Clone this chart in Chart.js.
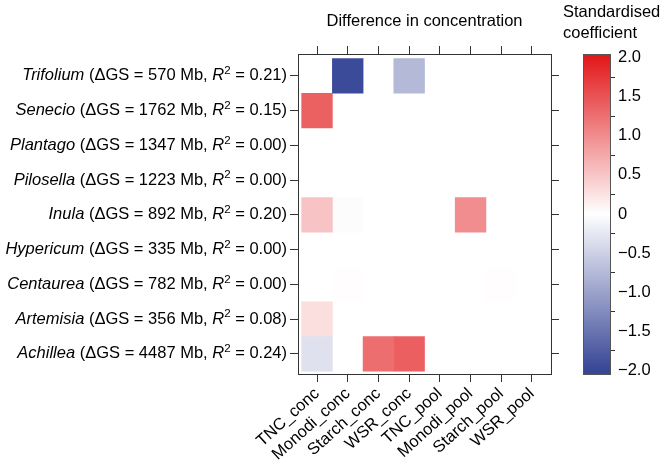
<!DOCTYPE html>
<html>
<head>
<meta charset="utf-8">
<script src="https://cdn.jsdelivr.net/npm/chart.js@4"></script>
<style>
  html, body { margin: 0; padding: 0; background: #fff; }
  #wrap { width: 660px; height: 470px; }
</style>
</head>
<body>
<div id="wrap"><canvas id="heat" width="660" height="470"></canvas></div>
<script>
// rows, top to bottom
const genera = ['Trifolium', 'Senecio', 'Plantago', 'Pilosella', 'Inula', 'Hypericum', 'Centaurea', 'Artemisia', 'Achillea'];
const deltaGS = [570, 1762, 1347, 1223, 892, 335, 782, 356, 4487];
const rSquared = ['0.21', '0.15', '0.00', '0.00', '0.20', '0.00', '0.00', '0.08', '0.24'];

// columns
const columns = ['TNC_conc', 'Monodi_conc', 'Starch_conc', 'WSR_conc', 'TNC_pool', 'Monodi_pool', 'Starch_pool', 'WSR_pool'];

// standardised coefficients per column (null = no cell)
const TNC_conc    = [null, 1.38, null, null, 0.52, null, null, 0.29, -0.32];
const Monodi_conc = [-1.95, null, null, null, -0.03, null, 0.02, null, null];
const Starch_conc = [null, null, null, null, null, null, null, null, 1.27];
const WSR_conc    = [-0.76, null, null, null, null, null, null, null, 1.4];
const TNC_pool    = [null, null, null, null, null, null, null, null, null];
const Monodi_pool = [null, null, null, null, 1.0, null, null, null, null];
const Starch_pool = [null, null, null, null, null, null, 0.02, null, null];
const WSR_pool    = [null, null, null, null, null, null, null, null, null];

const keyTicks = [2, 1.5, 1, 0.5, 0, -0.5, -1, -1.5, -2];

const series = [TNC_conc, Monodi_conc, Starch_conc, WSR_conc, TNC_pool, Monodi_pool, Starch_pool, WSR_pool];

const LOW = [55, 70, 150];
const HIGH = [226, 26, 28];
function coefColour(v) {
  const t = Math.min(Math.abs(v) / 2, 1);
  const end = v < 0 ? LOW : HIGH;
  const c = end.map(e => Math.round(255 + (e - 255) * t));
  return `rgb(${c.join(',')})`;
}

const FONT = 'Liberation Sans, Arial, sans-serif';
const SIZE = 16.5;
const INK = '#000';
const LINE = '#333';

const tickGrid = { drawOnChartArea: false, drawTicks: true, tickLength: 8, color: LINE, lineWidth: 1, offset: false };
const frame = { display: true, color: LINE, width: 1 };
const colTicks = s => { s.ticks = columns.map((_, i) => ({ value: i })); };
const rowTicks = s => { s.ticks = genera.map((_, i) => ({ value: i })); };

const speciesLabels = {
  id: 'speciesLabels',
  afterDraw(chart) {
    const { ctx } = chart;
    const y = chart.scales.y;
    const right = y.right - 8 - 3;
    const reg = `${SIZE}px ${FONT}`;
    const ita = `italic ${SIZE}px ${FONT}`;
    const sup = `${SIZE * 0.7}px ${FONT}`;
    ctx.save();
    ctx.fillStyle = INK;
    ctx.textBaseline = 'middle';
    ctx.textAlign = 'left';
    genera.forEach((g, i) => {
      const yy = y.getPixelForValue(i);
      const parts = [
        { t: g, f: ita },
        { t: ` (ΔGS = ${deltaGS[i]} Mb, `, f: reg },
        { t: 'R', f: ita },
        { t: '2', f: sup, dy: -5 },
        { t: ` = ${rSquared[i]})`, f: reg }
      ];
      let w = 0;
      parts.forEach(p => { ctx.font = p.f; p.w = ctx.measureText(p.t).width; w += p.w; });
      let x = right - w;
      parts.forEach(p => { ctx.font = p.f; ctx.fillText(p.t, x, yy + (p.dy || 0)); x += p.w; });
    });
    ctx.restore();
  }
};

const colourKey = {
  id: 'colourKey',
  afterDraw(chart) {
    const { ctx } = chart;
    const cb = chart.scales.cb;
    const x0 = cb.left, w = 27, top = cb.top, bottom = cb.bottom;
    const h = bottom - top;
    const grad = ctx.createLinearGradient(0, top, 0, bottom);
    grad.addColorStop(0, coefColour(cb.max));
    [2, 0, -2].forEach(v => grad.addColorStop((cb.getPixelForValue(v) - top) / h, coefColour(v)));
    grad.addColorStop(1, coefColour(cb.min));
    ctx.save();
    ctx.fillStyle = grad;
    ctx.fillRect(x0, top, w, h);
    ctx.strokeStyle = '#555';
    ctx.lineWidth = 1;
    ctx.strokeRect(x0 + 0.5, top + 0.5, w, h);
    ctx.fillStyle = INK;
    ctx.font = `${SIZE}px ${FONT}`;
    ctx.textAlign = 'left';
    ctx.textBaseline = 'middle';
    ctx.fillText('Standardised', x0 - 20, 12);
    ctx.fillText('coefficient', x0 - 20, 33);
    ctx.restore();
  }
};

new Chart(document.getElementById('heat'), {
  type: 'bar',
  data: {
    datasets: series.map((vals, c) => ({
      label: columns[c],
      data: vals.map((v, r) => (v === null ? null : { y: r, x: [c - 0.5, c + 0.5], v })).filter(d => d),
      backgroundColor: ctx => (ctx.raw ? coefColour(ctx.raw.v) : 'rgba(0,0,0,0)'),
      borderWidth: 0,
      grouped: false,
      barPercentage: 1,
      categoryPercentage: 1
    }))
  },
  plugins: [speciesLabels, colourKey],
  options: {
    responsive: false,
    animation: false,
    indexAxis: 'y',
    layout: { padding: 0 },
    plugins: { legend: { display: false }, tooltip: { enabled: false } },
    scales: {
      x: {
        type: 'linear', position: 'bottom', min: -0.62, max: 7.62, offset: false,
        afterBuildTicks: colTicks,
        afterFit: s => { s.height = 96; },
        grid: tickGrid, border: frame,
        ticks: {
          autoSkip: false, minRotation: 42, maxRotation: 42, padding: 2,
          color: INK, font: { family: FONT, size: SIZE },
          callback: (v, i) => columns[i]
        }
      },
      x2: {
        type: 'linear', position: 'top', min: -0.62, max: 7.62, offset: false,
        afterBuildTicks: colTicks,
        afterFit: s => { s.height = 54; },
        grid: tickGrid, border: frame,
        ticks: { callback: () => '' },
        title: {
          display: true, text: 'Difference in concentration', color: INK,
          font: { family: FONT, size: SIZE }, padding: { top: 12, bottom: 0 }
        }
      },
      y: {
        type: 'linear', position: 'left', min: -0.63, max: 8.58, reverse: true, offset: false,
        afterBuildTicks: rowTicks,
        afterFit: s => { s.width = 298; },
        grid: tickGrid, border: frame,
        ticks: { callback: () => '' }
      },
      y2: {
        type: 'linear', position: 'right', weight: 0, min: -0.63, max: 8.58, reverse: true, offset: false,
        afterBuildTicks: rowTicks,
        afterFit: s => { s.width = 32; },
        grid: tickGrid, border: frame,
        ticks: { callback: () => '' }
      },
      cb: {
        axis: 'y', type: 'linear', position: 'right', weight: 1, min: -2.045, max: 2.045, offset: false,
        afterBuildTicks: s => { s.ticks = keyTicks.map(v => ({ value: v })); },
        afterFit: s => { s.width = 77; },
        grid: { drawOnChartArea: false, drawTicks: true, tickLength: 32, color: LINE, lineWidth: 1 },
        border: { display: false },
        ticks: {
          padding: 3, color: INK, font: { family: FONT, size: SIZE },
          callback: v => (v === 0 ? '0' : (v < 0 ? '\u2212' : '') + Math.abs(v).toFixed(1))
        }
      }
    }
  }
});
</script>
</body>
</html>
